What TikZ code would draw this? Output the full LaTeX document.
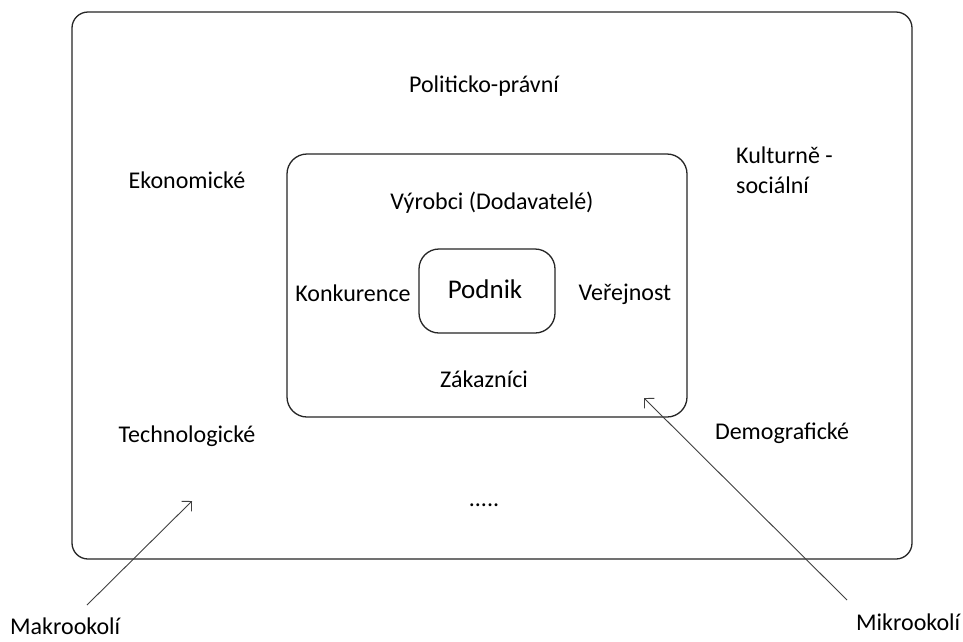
\documentclass[tikz,border=0pt]{standalone}
\usepackage{fontspec}
\setmainfont{Carlito}
\usetikzlibrary{arrows.meta}
\begin{document}
\begin{tikzpicture}[x=1pt,y=-1pt,
  box/.style={draw=black!85,line width=1.3pt},
  lbl/.style={font=\fontsize{24}{30}\selectfont,inner sep=0pt},
  arr/.style={draw=black!75,line width=0.9pt,-{Straight Barb[length=7pt,width=14pt,line width=0.9pt]}}]
\useasboundingbox (0,0) rectangle (963,641);
\fill[white] (0,0) rectangle (963,641);
\draw[box,rounded corners=16pt] (72,12) rectangle (912,559);
\draw[box,rounded corners=20pt] (287,154) rectangle (687,417);
\draw[box,rounded corners=20pt] (419,249) rectangle (555,333);
\node[lbl] (pol) at (484,86) {Politicko-právní};
\node[lbl] (eko) at (187,180) {Ekonomické};
\node[lbl,align=left,anchor=west] (kul) at (736,170) {Kulturně -\\sociální};
\node[lbl] (vyr) at (492,203) {Výrobci (Dodavatelé)};
\node[lbl] (kon) at (353,293) {Konkurence};
\node[lbl,font=\fontsize{27}{32}\selectfont] (pod) at (485,289) {Podnik};
\node[lbl] (ver) at (625,294) {Veřejnost};
\node[lbl] (zak) at (484,379) {Zákazníci};
\node[lbl] (tec) at (187,436) {Technologické};
\node[lbl] (dem) at (782,433) {Demografické};
\node[lbl] (dots) at (484,505) {.....};
\node[lbl,anchor=base west] (mak) at (10,634) {Makrookolí};
\node[lbl,anchor=base west] (mik) at (856,630) {Mikrookolí};
\coordinate (ma1) at (87,605);
\coordinate (ma2) at (192,501);
\coordinate (mi1) at (847,600);
\coordinate (mi2) at (644,398);
\draw[arr] (ma1) -- (ma2);
\draw[arr] (mi1) -- (mi2);
\end{tikzpicture}
\end{document}
